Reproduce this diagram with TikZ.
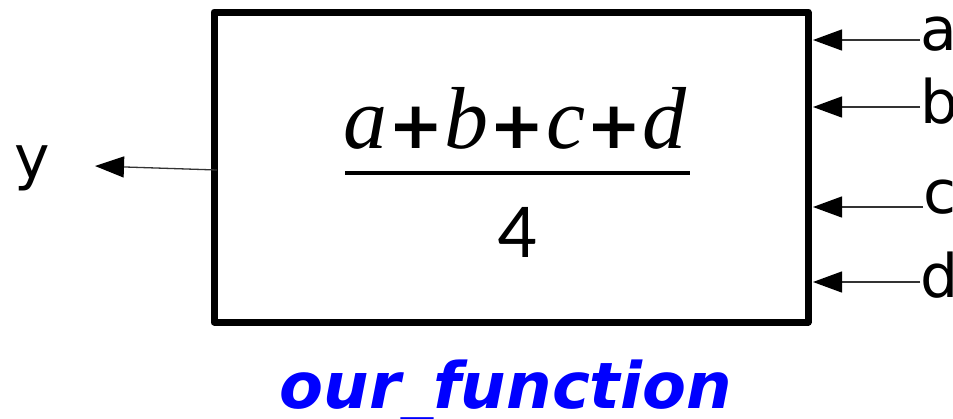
\documentclass[tikz,border=0pt]{standalone}
\usepackage{fontspec}
\usetikzlibrary{arrows.meta}
\setmainfont{DejaVu Sans}
\newfontfamily\mathletters{Liberation Serif}
\newfontfamily\numfont{Carlito}
\newfontfamily\labfont{DejaVu Sans}
\newcommand{\lt}[1]{{\mathletters\itshape\fontsize{88}{88}\selectfont #1}}
\newcommand{\pl}{\kern1pt{\labfont\bfseries\fontsize{66}{66}\selectfont +}\kern1pt}
\begin{document}
\begin{tikzpicture}[x=1pt,y=-1pt,
  blockbox/.style={draw,line width=7pt,line join=round},
  sig/.style={draw=black!80,line width=1.3pt,-{Triangle[length=29pt,width=21pt,color=black]}},
  portlabel/.style={inner sep=0pt,anchor=base west,font=\labfont\fontsize{60}{60}\selectfont},
  fname/.style={inner sep=0pt,anchor=base,text=blue,font=\labfont\bfseries\itshape\fontsize{64}{64}\selectfont}]
\useasboundingbox (0,0) rectangle (953,418);
\draw[blockbox] (214,12) rectangle (808,322);
\coordinate (boxw) at (217,170);
\coordinate (ina) at (813,40);
\coordinate (inb) at (813,107);
\coordinate (inc) at (813,207);
\coordinate (ind) at (813,282);
\node[portlabel] (a) at (920,50) {a};
\node[portlabel] (b) at (920,123) {b};
\node[portlabel] (c) at (923,213) {c};
\node[portlabel] (d) at (920,297) {d};
\node[portlabel] (y) at (14,178) {y};
\coordinate (yt) at (95,166);
\draw[sig] (a.west |- ina) -- (ina);
\draw[sig] (b.west |- inb) -- (inb);
\draw[sig] (c.west |- inc) -- (inc);
\draw[sig] (d.west |- ind) -- (ind);
\draw[sig] (boxw) -- (yt);
\node[inner sep=0pt,anchor=base] (num) at (515,148) {\lt{a}\pl\lt{b}\pl\lt{c}\pl\lt{d}};
\coordinate (barl) at (345,173);
\coordinate (barr) at (690,173);
\draw[line width=4pt] (barl) -- (barr);
\node[inner sep=0pt,anchor=base] (den) at (517,257) {\fontsize{78}{78}\selectfont\numfont 4};
\node[fname] (fn) at (506,408) {our\_function};
\end{tikzpicture}
\end{document}
